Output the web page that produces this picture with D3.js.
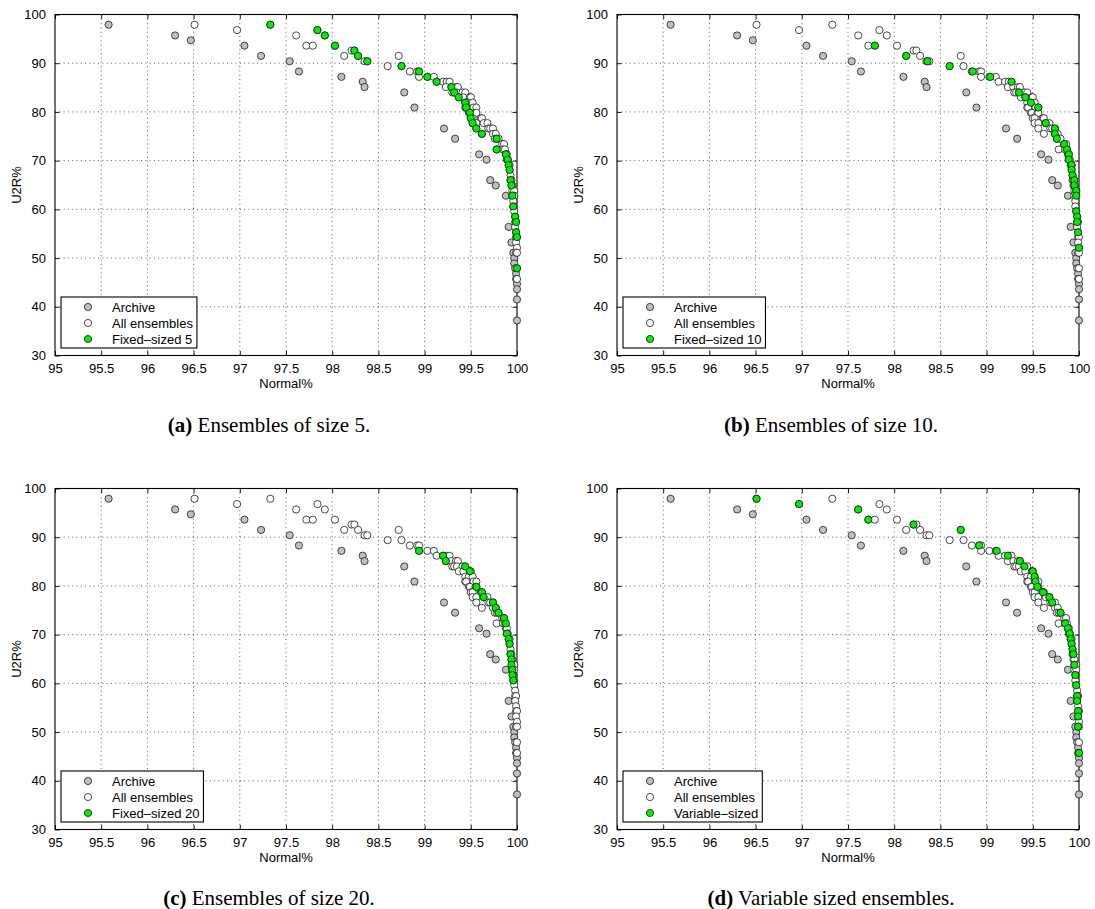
<!DOCTYPE html>
<html>
<head>
<meta charset="utf-8">
<script src="https://cdn.jsdelivr.net/npm/d3@7"></script>
<style>
  html, body { margin: 0; padding: 0; background: #fff; }
  svg { display: block; }
</style>
</head>
<body>
<svg id="chart" width="1095" height="909"></svg>
<script>
// ---------------- data (Normal%, U2R%) ----------------
const archive = [
  [95.58, 97.9], [96.30, 95.7], [96.47, 94.7], [97.05, 93.6], [97.23, 91.5],
  [97.54, 90.4], [97.64, 88.3], [98.10, 87.2], [98.33, 86.2], [98.35, 85.1],
  [98.78, 84.0], [98.89, 80.9], [99.21, 76.6], [99.33, 74.5], [99.59, 71.3],
  [99.67, 70.2], [99.71, 66.0], [99.77, 64.9], [99.88, 62.8], [99.91, 56.4],
  [99.94, 53.2], [99.96, 51.1], [99.97, 50.0], [99.97, 48.9], [99.98, 47.9],
  [99.99, 46.8], [99.99, 45.7], [100.0, 44.7], [100.0, 43.6], [100.0, 41.5],
  [100.0, 37.2]
];
const allEnsembles = [
  [96.51, 97.9], [97.33, 97.9], [96.97, 96.8], [97.84, 96.8], [97.61, 95.7],
  [97.92, 95.7], [97.72, 93.6], [97.79, 93.6], [98.03, 93.6], [98.21, 92.6],
  [98.24, 92.6], [98.13, 91.5], [98.28, 91.5], [98.72, 91.5], [98.35, 90.4],
  [98.38, 90.4], [98.60, 89.4], [98.75, 89.4], [98.84, 88.3], [98.92, 88.3],
  [98.94, 88.3], [98.94, 87.2], [99.03, 87.2], [99.10, 87.2], [99.13, 86.2],
  [99.20, 86.2], [99.24, 86.2], [99.27, 86.2], [99.23, 85.1], [99.29, 85.1],
  [99.34, 85.1], [99.36, 85.1], [99.30, 84.0], [99.32, 84.0], [99.35, 84.0],
  [99.41, 84.0], [99.44, 84.0], [99.37, 83.0], [99.42, 83.0], [99.49, 83.0],
  [99.50, 83.0], [99.44, 81.9], [99.48, 81.9], [99.52, 81.9], [99.44, 80.9],
  [99.45, 80.9], [99.53, 80.9], [99.56, 80.9], [99.48, 79.8], [99.49, 79.8],
  [99.55, 79.8], [99.56, 79.8], [99.50, 78.7], [99.52, 78.7], [99.61, 78.7],
  [99.62, 78.7], [99.52, 77.7], [99.56, 77.7], [99.64, 77.7], [99.68, 77.7],
  [99.56, 76.6], [99.69, 76.6], [99.71, 76.6], [99.74, 76.6], [99.62, 75.5],
  [99.74, 75.5], [99.77, 75.5], [99.76, 74.5], [99.78, 74.5], [99.80, 74.5],
  [99.84, 73.4], [99.86, 73.4], [99.78, 72.3], [99.85, 72.3], [99.87, 72.3],
  [99.88, 71.3], [99.89, 71.3], [99.89, 70.2], [99.90, 70.2], [99.91, 69.1],
  [99.92, 69.1], [99.92, 68.1], [99.93, 67.0], [99.93, 66.0], [99.94, 66.0],
  [99.94, 64.9], [99.95, 64.9], [99.95, 63.8], [99.97, 63.8], [99.95, 62.8],
  [99.97, 62.8], [99.96, 61.7], [99.96, 60.6], [99.97, 59.6], [99.98, 58.5],
  [99.98, 57.4], [99.99, 57.4], [99.98, 56.4], [99.99, 55.3], [99.99, 54.3],
  [100.0, 54.3], [99.99, 53.2], [100.0, 52.1], [99.99, 51.1], [100.0, 51.1],
  [100.0, 47.9], [100.0, 45.7]
];
const fixed5 = [
  [97.33, 97.9], [97.84, 96.8], [97.92, 95.7], [98.03, 93.6], [98.24, 92.6],
  [98.28, 91.5], [98.38, 90.4], [98.75, 89.4], [98.94, 88.3], [99.03, 87.2],
  [99.13, 86.2], [99.29, 85.1], [99.32, 84.0], [99.37, 83.0], [99.44, 81.9],
  [99.45, 80.9], [99.49, 79.8], [99.50, 78.7], [99.52, 77.7], [99.56, 76.6],
  [99.62, 75.5], [99.78, 74.5], [99.78, 72.3], [99.88, 71.3], [99.90, 70.2],
  [99.91, 69.1], [99.92, 68.1], [99.93, 66.0], [99.94, 64.9], [99.95, 62.8],
  [99.96, 60.6], [99.98, 58.5], [99.99, 57.4], [99.99, 55.3], [100.0, 54.3],
  [100.0, 47.9]
];
const fixed10 = [
  [97.79, 93.6], [98.13, 91.5], [98.36, 90.4], [98.60, 89.4], [98.85, 88.3],
  [99.04, 87.2], [99.27, 86.2], [99.35, 84.0], [99.42, 83.0], [99.48, 81.9],
  [99.56, 80.9], [99.64, 77.7], [99.74, 76.6], [99.74, 75.5], [99.76, 74.5],
  [99.84, 73.4], [99.87, 72.3], [99.89, 71.3], [99.89, 70.2], [99.92, 69.1],
  [99.92, 68.1], [99.93, 67.0], [99.95, 66.0], [99.95, 64.9], [99.97, 63.8],
  [99.97, 62.8], [99.97, 59.6], [99.98, 58.5], [99.98, 57.4], [99.99, 55.3],
  [100.0, 52.1]
];
const fixed20 = [
  [98.94, 87.2], [99.20, 86.2], [99.23, 85.1], [99.44, 84.0], [99.49, 83.0],
  [99.56, 79.8], [99.62, 78.7], [99.64, 77.7], [99.74, 76.6], [99.77, 75.5],
  [99.80, 74.5], [99.86, 73.4], [99.88, 72.3], [99.89, 70.2], [99.91, 69.1],
  [99.92, 68.1], [99.93, 66.0], [99.94, 64.9], [99.94, 63.8], [99.95, 62.8],
  [99.95, 61.7], [99.96, 60.6]
];
const variableSized = [
  [96.51, 97.9], [96.97, 96.8], [97.61, 95.7], [97.72, 93.6], [98.21, 92.6],
  [98.72, 91.5], [98.92, 88.3], [99.11, 87.2], [99.23, 86.2], [99.36, 85.1],
  [99.41, 84.0], [99.50, 83.0], [99.52, 81.9], [99.53, 80.9], [99.55, 79.8],
  [99.61, 78.7], [99.68, 77.7], [99.71, 76.6], [99.80, 74.5], [99.85, 72.3],
  [99.88, 71.3], [99.90, 70.2], [99.91, 69.1], [99.92, 68.1], [99.93, 67.0],
  [99.94, 66.0], [99.95, 63.8], [99.96, 61.7], [99.97, 59.6], [99.98, 57.4],
  [99.98, 56.4], [99.99, 54.3], [99.99, 53.2], [99.99, 51.1], [100.0, 45.7]
];
const xTicks = [95, 95.5, 96, 96.5, 97, 97.5, 98, 98.5, 99, 99.5, 100];
const yTicks = [30, 40, 50, 60, 70, 80, 90, 100];
const legendLabels = ["Archive", "All ensembles"];
const greenLabels = ["Fixed\u2013sized 5", "Fixed\u2013sized 10", "Fixed\u2013sized 20", "Variable\u2013sized"];
const captionTags = ["(a)", "(b)", "(c)", "(d)"];
const captionTexts = [" Ensembles of size 5.", " Ensembles of size 10.", " Ensembles of size 20.", " Variable sized ensembles."];
const greenSeries = [fixed5, fixed10, fixed20, variableSized];

// ---------------- layout ----------------
const panelBoxes = [
  { x0: 55,  x1: 517,  y0: 14.5,  y1: 355.5, capY: 432 },
  { x0: 617, x1: 1079, y0: 14.5,  y1: 355.5, capY: 432 },
  { x0: 55,  x1: 517,  y0: 488.5, y1: 829.5, capY: 905 },
  { x0: 617, x1: 1079, y0: 488.5, y1: 829.5, capY: 905 }
];
const colors = { archive: "#c0c0c0", all: "#ffffff", green: "#00ee00" };
const R = 3.6;
const SANS = "'Liberation Sans', Arial, Helvetica, sans-serif";
const SERIF = "'Liberation Serif', 'Times New Roman', Times, serif";

const svg = d3.select("#chart");
svg.append("rect").attr("width", 1095).attr("height", 909).attr("fill", "#fff");

panelBoxes.forEach((b, i) => {
  const x = d3.scaleLinear().domain([95, 100]).range([b.x0, b.x1]);
  const y = d3.scaleLinear().domain([30, 100]).range([b.y1, b.y0]);
  const g = svg.append("g");

  // grid (dotted)
  g.append("g").selectAll("line").data(xTicks.slice(1, -1)).join("line")
    .attr("x1", d => x(d)).attr("x2", d => x(d))
    .attr("y1", b.y0).attr("y2", b.y1)
    .attr("stroke", "#333").attr("stroke-width", 0.8)
    .attr("stroke-dasharray", "1,3.3");
  g.append("g").selectAll("line").data(yTicks.slice(1, -1)).join("line")
    .attr("y1", d => y(d)).attr("y2", d => y(d))
    .attr("x1", b.x0).attr("x2", b.x1)
    .attr("stroke", "#333").attr("stroke-width", 0.8)
    .attr("stroke-dasharray", "1,3.3");

  // axes: D3 axes with inward ticks on all 4 sides
  const tl = 4.5;
  const axB = g.append("g").attr("transform", `translate(0,${b.y1})`)
    .call(d3.axisBottom(x).tickValues(xTicks).tickSizeInner(-tl).tickSizeOuter(0).tickPadding(8).tickFormat(d3.format("")));
  const axT = g.append("g").attr("transform", `translate(0,${b.y0})`)
    .call(d3.axisTop(x).tickValues(xTicks).tickSizeInner(-tl).tickSizeOuter(0).tickFormat(""));
  const axL = g.append("g").attr("transform", `translate(${b.x0},0)`)
    .call(d3.axisLeft(y).tickValues(yTicks).tickSizeInner(-tl).tickSizeOuter(0).tickPadding(9).tickFormat(d3.format("")));
  const axR = g.append("g").attr("transform", `translate(${b.x1},0)`)
    .call(d3.axisRight(y).tickValues(yTicks).tickSizeInner(-tl).tickSizeOuter(0).tickFormat(""));
  [axB, axT, axL, axR].forEach(a => {
    a.select(".domain").remove();
    a.selectAll(".tick line").attr("stroke", "#000").attr("stroke-width", 0.9);
    a.selectAll("text").attr("font-family", SANS).attr("font-size", 13).attr("fill", "#000");
  });
  axB.selectAll("text").attr("dy", "0.71em");
  // box
  g.append("rect").attr("x", b.x0).attr("y", b.y0)
    .attr("width", b.x1 - b.x0).attr("height", b.y1 - b.y0)
    .attr("fill", "none").attr("stroke", "#000").attr("stroke-width", 1.1);

  // axis labels
  g.append("text").attr("x", (b.x0 + b.x1) / 2).attr("y", b.y1 + 32.5)
    .attr("text-anchor", "middle").attr("font-family", SANS).attr("font-size", 13)
    .text("Normal%");
  g.append("text")
    .attr("transform", `translate(${b.x0 - 34},${(b.y0 + b.y1) / 2}) rotate(-90)`)
    .attr("text-anchor", "middle").attr("font-family", SANS).attr("font-size", 13)
    .text("U2R%");

  // points
  const drawPts = (data, fill) => g.append("g").selectAll("circle").data(data).join("circle")
    .attr("cx", d => x(d[0])).attr("cy", d => y(d[1])).attr("r", R)
    .attr("fill", fill).attr("stroke", "#1a1a1a").attr("stroke-width", 0.8);
  drawPts(archive, colors.archive);
  drawPts(allEnsembles, colors.all);
  drawPts(greenSeries[i], colors.green);

  // legend
  const lg = g.append("g");
  const labels = [legendLabels[0], legendLabels[1], greenLabels[i]];
  const fills = [colors.archive, colors.all, colors.green];
  const bx = b.x0 + 6, by = b.y1 - 58.5, bh = 51;
  const box = lg.append("rect").attr("x", bx).attr("y", by).attr("height", bh)
    .attr("fill", "#fff").attr("stroke", "#000").attr("stroke-width", 1.1);
  let maxW = 0;
  labels.forEach((t, k) => {
    const cy = by + 10 + k * 16;
    lg.append("circle").attr("cx", bx + 27).attr("cy", cy).attr("r", R)
      .attr("fill", fills[k]).attr("stroke", "#1a1a1a").attr("stroke-width", 0.8);
    const tx = lg.append("text").attr("x", bx + 51).attr("y", cy + 4.6)
      .attr("font-family", SANS).attr("font-size", 13).text(t);
    maxW = Math.max(maxW, tx.node().getComputedTextLength());
  });
  box.attr("width", 51 + maxW + 4);

  // caption
  const cap = svg.append("text").attr("x", (b.x0 + b.x1) / 2 - 17).attr("y", b.capY)
    .attr("text-anchor", "middle").attr("font-family", SERIF).attr("font-size", 21).attr("fill", "#000");
  cap.append("tspan").attr("font-weight", "bold").text(captionTags[i]);
  cap.append("tspan").text(captionTexts[i]);
});
</script>
</body>
</html>
